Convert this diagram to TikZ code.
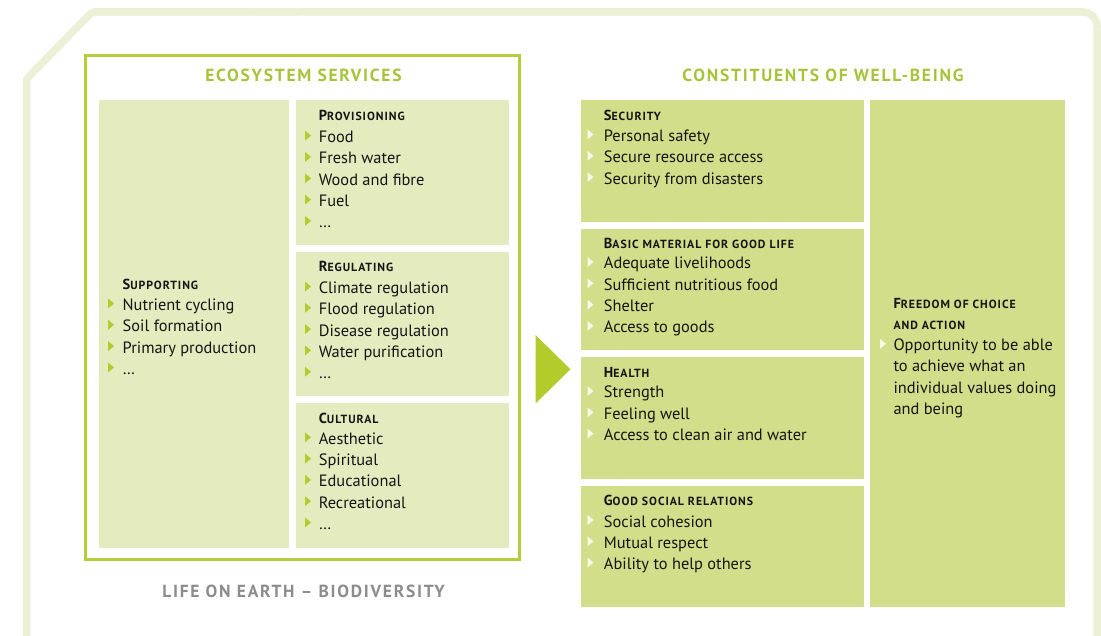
\documentclass[tikz,border=0pt]{standalone}
\usepackage{fontspec}
\setmainfont{PT Sans}
\definecolor{framec}{HTML}{EBF0D6}
\definecolor{boxline}{HTML}{B4CD3A}
\definecolor{titlec}{HTML}{A6C43A}
\definecolor{lcell}{HTML}{E3EBBF}
\definecolor{rcell}{HTML}{D2DE8A}
\definecolor{arrowc}{HTML}{B3CC2B}
\definecolor{graytxt}{HTML}{8C8C8C}
\definecolor{bulg}{HTML}{B3CC2B}
\definecolor{bulw}{HTML}{F6F8E8}
\definecolor{txt}{HTML}{151515}
\newcommand\scp[2]{{\bfseries\addfontfeature{LetterSpace=8}\fontsize{14.5}{16}\selectfont #1\fontsize{11.8}{13}\selectfont #2}}
\newcommand\scr[1]{{\bfseries\addfontfeature{LetterSpace=8}\fontsize{11.8}{13}\selectfont #1}}
\tikzset{
  itemtxt/.style={anchor=base west, inner sep=0pt, text=txt, font=\fontsize{16.4}{18}\selectfont},
  headtxt/.style={anchor=base west, inner sep=0pt, text=txt},
  titletxt/.style={anchor=base, inner sep=0pt, text=titlec, font=\bfseries\fontsize{17.5}{20}\selectfont\addfontfeature{LetterSpace=10}},
  gray title/.style={anchor=base, inner sep=0pt, text=graytxt, font=\bfseries\fontsize{17.5}{20}\selectfont\addfontfeature{LetterSpace=10}},
  framepath/.style={draw=framec, line width=7.5pt},
}
% #1 name, #2 bullet x, #3 text x, #4 first baseline, #5 bullet colour, #6 items
\newcommand\itemlist[6]{%
  \foreach \t [count=\i] in {#6} {%
    \pgfmathsetmacro\yb{#4+(\i-1)*21.3}%
    \fill[#5] (#2,\yb-12) -- (#2,\yb-2) -- (#2+6,\yb-7) -- cycle;
    \node[itemtxt] (#1-\i) at (#3,\yb) {\t};
  }}
\begin{document}
\begin{tikzpicture}[x=1pt,y=-1pt]
\useasboundingbox (0,0) rectangle (1101,636);
% outer frame
\draw[framepath, rounded corners=3pt] (26.5,650) -- (26.5,79) -- (92,12) -- (300,12);
\draw[framepath, rounded corners=14pt] (250,12) -- (1097,12) -- (1097,650);
% ecosystem services box
\draw[draw=boxline, line width=3pt] (85,56) rectangle (519.5,559.5);
\node[titletxt] (estitle) at (303.5,81.5) {ECOSYSTEM SERVICES};
\fill[lcell] (99,100.5) rectangle (288.5,548);
\fill[lcell] (296,100.5) rectangle (509,245);
\fill[lcell] (296,252) rectangle (509,396);
\fill[lcell] (296,403) rectangle (509,548);
\node[gray title] (life) at (303.5,597.5) {LIFE ON EARTH – BIODIVERSITY};
% headings left
\node[headtxt] (supp) at (122.5,289.3) {\scp{S}{UPPORTING}};
\node[headtxt] (prov) at (318.6,121) {\scp{P}{ROVISIONING}};
\node[headtxt] (regu) at (318.6,271.7) {\scp{R}{EGULATING}};
\node[headtxt] (cult) at (318.6,423.3) {\scp{C}{ULTURAL}};
\itemlist{supi}{108}{122.5}{310.5}{bulg}{Nutrient cycling, Soil formation, Primary production, \ldots}
\itemlist{provi}{305}{318.6}{142.7}{bulg}{Food, Fresh water, Wood and fibre, Fuel, \ldots}
\itemlist{regi}{305}{318.6}{293.5}{bulg}{Climate regulation, Flood regulation, Disease regulation, Water purification, \ldots}
\itemlist{culi}{305}{318.6}{444.3}{bulg}{Aesthetic, Spiritual, Educational, Recreational, \ldots}
% arrow
\fill[arrowc] (535.5,335) -- (535.5,403.5) -- (570.5,369.3) -- cycle;
% constituents
\node[titletxt] (cwtitle) at (823,81.5) {CONSTITUENTS OF WELL-BEING};
\fill[rcell] (580.5,100.5) rectangle (864,222);
\fill[rcell] (580.5,229) rectangle (864,350);
\fill[rcell] (580.5,357) rectangle (864,479);
\fill[rcell] (580.5,486) rectangle (864,607);
\fill[rcell] (870,100.5) rectangle (1065,607);
\node[headtxt] (secu) at (603.7,120.7) {\scp{S}{ECURITY}};
\node[headtxt] (basic) at (603.7,248.3) {\scp{B}{ASIC MATERIAL FOR GOOD LIFE}};
\node[headtxt] (heal) at (603.7,377.3) {\scp{H}{EALTH}};
\node[headtxt] (soc) at (603.7,505.7) {\scp{G}{OOD SOCIAL RELATIONS}};
\node[headtxt] (free1) at (893.3,309) {\scp{F}{REEDOM OF CHOICE}};
\node[headtxt] (free2) at (893.3,330) {\scr{AND ACTION}};
\itemlist{seci}{587.5}{603.7}{141.5}{bulw}{Personal safety, Secure resource access, Security from disasters}
\itemlist{basi}{587.5}{603.7}{269}{bulw}{Adequate livelihoods, Sufficient nutritious food, Shelter, Access to goods}
\itemlist{heai}{587.5}{603.7}{398}{bulw}{Strength, Feeling well, Access to clean air and water}
\itemlist{soci}{587.5}{603.7}{527}{bulw}{Social cohesion, Mutual respect, Ability to help others}
\fill[bulw] (880,338.7) -- (880,348.7) -- (886,343.7) -- cycle;
\node[itemtxt] (fr1) at (893.3,350.7) {Opportunity to be able};
\node[itemtxt] (fr2) at (893.3,372) {to achieve what an};
\node[itemtxt] (fr3) at (893.3,393.3) {individual values doing};
\node[itemtxt] (fr4) at (893.3,414.6) {and being};
\end{tikzpicture}
\end{document}
